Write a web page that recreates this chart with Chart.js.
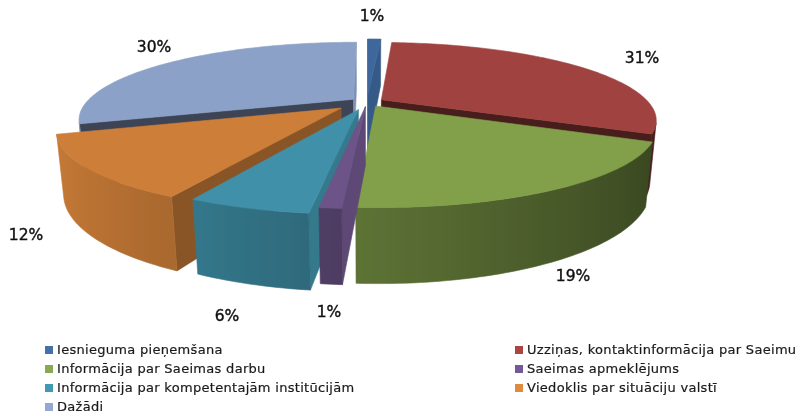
<!DOCTYPE html>
<html>
<head>
<meta charset="utf-8">
<script src="https://cdn.jsdelivr.net/npm/chart.js@4"></script>
<style>
    body { margin: 0; background: #fff; }
    #wrap { position: relative; width: 800px; height: 416px; overflow: hidden; }
    #myChart { position: absolute; left: 0; top: 0; }
    .item { position: absolute; font: 13px "DejaVu Sans", sans-serif; letter-spacing: 0.3px; -webkit-text-stroke: 0.2px #1a1a1a; color: #1a1a1a; white-space: nowrap; line-height: 16px; }
    .item i { position: absolute; left: -12px; top: 4px; width: 8px; height: 8px; }
</style>
</head>
<body>
<div id="wrap">
    <canvas id="myChart" width="800" height="416"></canvas>
</div>
<script>
const categories = [
    'Iesnieguma pieņemšana',
    'Uzziņas, kontaktinformācija par Saeimu',
    'Informācija par Saeimas darbu',
    'Saeimas apmeklējums',
    'Informācija par kompetentajām institūcijām',
    'Viedoklis par situāciju valstī',
    'Dažādi'
];
const values = [1, 31, 19, 1, 5.5, 12.4, 30.1];
const percentLabels = ['1%', '31%', '19%', '1%', '6%', '12%', '30%'];

// top face colours and the brighter legend swatches
const faceColors = ['#3e689c', '#a04340', '#82a04a', '#6c5488', '#3f90a8', '#cd7e38', '#8ca1c7'];
const legendColors = ['#4472a8', '#ab4542', '#8aa850', '#73599a', '#419aaf', '#de8a3f', '#95a8cf'];
const explode = [0.11, 0.063, 0.063, 0.063, 0.107, 0.125, 0.063];
const labelSpots = [[372, 17], [642, 59], [573, 277], [329, 313], [227, 317], [26, 236], [154, 48]];

// camera for the tilted pie
const view = { cx: 367, cy: 102, a: 267, b: 73, persp: 0.257, depthW: 0.0212, depthY: 59.3 };

function project(x, y, t) {
    const w = 1 - view.persp * y + view.depthW * t;
    return [view.cx + view.a * x / w, view.cy + (view.b * y + view.depthY * t) / w];
}

function shade(hex, f) {
    const n = parseInt(hex.slice(1), 16);
    const r = Math.min(255, Math.round(((n >> 16) & 255) * f));
    const g = Math.min(255, Math.round(((n >> 8) & 255) * f));
    const b = Math.min(255, Math.round((n & 255) * f));
    return 'rgb(' + r + ',' + g + ',' + b + ')';
}

function signedArea(pts) {
    let area = 0;
    for (let i = 0; i < pts.length; i++) {
        const p = pts[i], q = pts[(i + 1) % pts.length];
        area += p[0] * q[1] - q[0] * p[1];
    }
    return area;
}

function fillPoly(ctx, pts, color) {
    ctx.beginPath();
    pts.forEach(function (p, i) {
        if (i === 0) ctx.moveTo(p[0], p[1]);
        else ctx.lineTo(p[0], p[1]);
    });
    ctx.closePath();
    ctx.fillStyle = color;
    ctx.strokeStyle = color;
    ctx.lineWidth = 0.6;
    ctx.fill();
    ctx.stroke();
}

function drawSlice(ctx, arc, i) {
    // library angles start at -90deg, turn them into clockwise from the top
    const start = arc.startAngle + Math.PI / 2;
    const end = arc.endAngle + Math.PI / 2;
    const mid = (start + end) / 2;
    const ox = explode[i] * Math.sin(mid);
    const oy = -explode[i] * Math.cos(mid);
    const rim = function (th) { return [ox + Math.sin(th), oy - Math.cos(th)]; };
    const color = faceColors[i];
    const steps = Math.max(4, Math.ceil((end - start) / 0.02));

    // radial cut walls, only the ones facing the camera
    [[start, 1], [end, -1]].forEach(function (w) {
        const r = rim(w[0]);
        const normalY = -w[1] * Math.sin(w[0]);
        const pts = [project(ox, oy, 0), project(r[0], r[1], 0), project(r[0], r[1], 1), project(ox, oy, 1)];
        if (w[1] === 1) pts.reverse();
        if (signedArea(pts) > 0) fillPoly(ctx, pts, shade(color, 0.9 - 0.5 * normalY));
    });

    // outer wall: the front facing steps become one polygon with a left to right gradient
    const upper = [], lower = [], stops = [];
    for (let s = 0; s < steps; s++) {
        const a0 = start + (end - start) * s / steps;
        const a1 = start + (end - start) * (s + 1) / steps;
        const r0 = rim(a0), r1 = rim(a1);
        const quad = [project(r1[0], r1[1], 0), project(r0[0], r0[1], 0), project(r0[0], r0[1], 1), project(r1[0], r1[1], 1)];
        if (signedArea(quad) <= 0) continue;
        if (upper.length === 0) {
            upper.push(quad[1]);
            lower.push(quad[2]);
        }
        upper.push(quad[0]);
        lower.push(quad[3]);
        stops.push([(quad[0][0] + quad[1][0]) / 2, 0.7 - 0.28 * Math.sin((a0 + a1) / 2)]);
    }
    if (upper.length > 1) {
        const xs = upper.concat(lower).map(function (p) { return p[0]; });
        const minX = Math.min.apply(null, xs), maxX = Math.max.apply(null, xs);
        const grad = ctx.createLinearGradient(minX, 0, maxX, 0);
        stops.forEach(function (st) {
            grad.addColorStop((st[0] - minX) / (maxX - minX), shade(color, st[1]));
        });
        fillPoly(ctx, upper.concat(lower.reverse()), grad);
    }

    // top face
    const top = [project(ox, oy, 0)];
    for (let s = 0; s <= steps; s++) {
        const r = rim(start + (end - start) * s / steps);
        top.push(project(r[0], r[1], 0));
    }
    fillPoly(ctx, top, color);
}

const tiltedPie = {
    id: 'tiltedPie',
    beforeDatasetsDraw: function (chart) {
        const ctx = chart.ctx;
        const arcs = chart.getDatasetMeta(0).data;
        // back slices first
        const order = arcs.map(function (a, i) { return i; }).sort(function (p, q) {
            const mp = (arcs[p].startAngle + arcs[p].endAngle) / 2 + Math.PI / 2;
            const mq = (arcs[q].startAngle + arcs[q].endAngle) / 2 + Math.PI / 2;
            return Math.cos(mq) - Math.cos(mp);
        });
        ctx.save();
        order.forEach(function (i) { drawSlice(ctx, arcs[i], i); });
        ctx.font = '15.5px "DejaVu Sans", sans-serif';
        ctx.fillStyle = '#111';
        ctx.strokeStyle = '#111';
        ctx.lineWidth = 0.4;
        ctx.textAlign = 'center';
        ctx.textBaseline = 'middle';
        percentLabels.forEach(function (text, i) {
            ctx.fillText(text, labelSpots[i][0], labelSpots[i][1]);
            ctx.strokeText(text, labelSpots[i][0], labelSpots[i][1]);
        });
        ctx.restore();
        return false;
    }
};

new Chart(document.getElementById('myChart').getContext('2d'), {
    type: 'pie',
    data: {
        labels: categories,
        datasets: [{ data: values, backgroundColor: legendColors, borderWidth: 0 }]
    },
    options: {
        responsive: false,
        animation: false,
        plugins: { legend: { display: false }, tooltip: { enabled: false } }
    },
    plugins: [tiltedPie]
});

// two column legend, filled row by row
const wrap = document.getElementById('wrap');
categories.forEach(function (name, i) {
    const item = document.createElement('div');
    item.className = 'item';
    item.style.left = (i % 2 ? 527 : 57) + 'px';
    item.style.top = (342 + 19 * Math.floor(i / 2)) + 'px';
    item.textContent = name;
    const box = document.createElement('i');
    box.style.background = legendColors[i];
    item.appendChild(box);
    wrap.appendChild(item);
});
</script>
</body>
</html>
